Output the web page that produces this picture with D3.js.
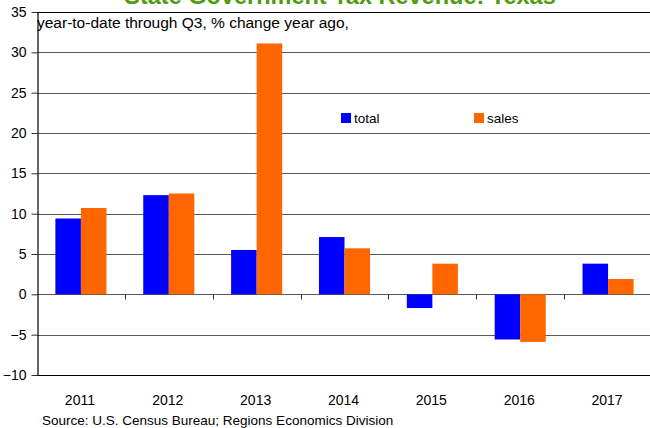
<!DOCTYPE html>
<html>
<head>
<meta charset="utf-8">
<script src="https://cdn.jsdelivr.net/npm/d3@7"></script>
<style>
  body { margin: 0; background: #fff; }
  svg { display: block; font-family: Arial, "Liberation Sans", sans-serif; }
</style>
</head>
<body>
<script>
var years = ['2011', '2012', '2013', '2014', '2015', '2016', '2017'];
var seriesNames = ['total', 'sales'];
var totalValues = [9.4, 12.3, 5.5, 7.1, -1.7, -5.6, 3.8];
var salesValues = [10.7, 12.5, 31.1, 5.7, 3.8, -5.9, 1.9];
var yTicks = [-10, -5, 0, 5, 10, 15, 20, 25, 30, 35];
var colors = { total: '#0000ff', sales: '#ff6600' };

var width = 650, height = 428;
var margin = { top: 12, right: -2, bottom: 53, left: 37 };

var svg = d3.select(document.body).append('svg')
    .attr('width', width)
    .attr('height', height);

var x0 = d3.scaleBand().domain(years)
    .range([margin.left, width - margin.right]).padding(0);
var x1 = d3.scaleBand().domain(seriesNames)
    .range([0, x0.bandwidth()]).paddingInner(0).paddingOuter(0.72);
var y = d3.scaleLinear().domain([-10, 35])
    .range([height - margin.bottom, margin.top]);

var data = years.map(function(yr, i) {
  return { year: yr, total: totalValues[i], sales: salesValues[i] };
});

// title (mostly cut off at the top edge, as in the source image)
svg.append('text')
    .attr('x', 340).attr('y', 4)
    .attr('text-anchor', 'middle')
    .attr('font-size', 23.5).attr('font-weight', 'bold')
    .attr('fill', '#4f9a0f')
    .text('State Government Tax Revenue: Texas');

// gridlines
svg.append('g').selectAll('line')
    .data(yTicks)
    .enter().append('line')
    .attr('x1', margin.left).attr('x2', width)
    .attr('y1', function(d) { return Math.round(y(d)) + 0.5; })
    .attr('y2', function(d) { return Math.round(y(d)) + 0.5; })
    .attr('stroke', function(d) { return (d === 35 || d === -10) ? '#000' : '#5a5a5a'; })
    .attr('stroke-width', 1.2);

// bars
var groups = svg.append('g').selectAll('g')
    .data(data)
    .enter().append('g')
    .attr('transform', function(d) { return 'translate(' + x0(d.year) + ',0)'; });

groups.selectAll('rect')
    .data(function(d) { return seriesNames.map(function(k) { return { key: k, value: d[k] }; }); })
    .enter().append('rect')
    .attr('x', function(d) { return x1(d.key); })
    .attr('width', x1.bandwidth())
    .attr('y', function(d) { return y(Math.max(0, d.value)); })
    .attr('height', function(d) { return Math.abs(y(d.value) - y(0)); })
    .attr('fill', function(d) { return colors[d.key]; });

// category ticks on zero line
var zeroY = Math.round(y(0)) + 0.5;
svg.append('g').selectAll('line')
    .data(years.slice(1))
    .enter().append('line')
    .attr('x1', function(d) { return Math.round(x0(d)) + 0.5; })
    .attr('x2', function(d) { return Math.round(x0(d)) + 0.5; })
    .attr('y1', zeroY).attr('y2', zeroY + 5)
    .attr('stroke', '#333');

// y axis
var yAxis = svg.append('g')
    .attr('transform', 'translate(' + (margin.left + 0.5) + ',0)')
    .call(d3.axisLeft(y).tickValues(yTicks).tickSize(6).tickSizeOuter(0).tickPadding(5));
yAxis.select('.domain').attr('stroke', '#000').attr('stroke-width', 1.2);
yAxis.selectAll('.tick line').attr('stroke', '#333');
yAxis.selectAll('.tick text')
    .attr('font-size', 14).attr('fill', '#000')
    .attr('font-family', 'Arial, "Liberation Sans", sans-serif');

// x labels
svg.append('g').selectAll('text')
    .data(years)
    .enter().append('text')
    .attr('x', function(d) { return x0(d) + x0.bandwidth() / 2 - 1; })
    .attr('y', 405)
    .attr('text-anchor', 'middle')
    .attr('font-size', 14)
    .text(function(d) { return d; });

// subtitle
svg.append('text')
    .attr('x', 37).attr('y', 28)
    .attr('font-size', 15.5)
    .text('year-to-date through Q3, % change year ago,');

// legend
var legendPos = { total: 341, sales: 474 };
var legend = svg.append('g').selectAll('g')
    .data(seriesNames)
    .enter().append('g')
    .attr('transform', function(d) { return 'translate(' + legendPos[d] + ',113)'; });
legend.append('rect')
    .attr('width', 10).attr('height', 10)
    .attr('fill', function(d) { return colors[d]; });
legend.append('text')
    .attr('x', 13).attr('y', 10)
    .attr('font-size', 13.5)
    .text(function(d) { return d; });

// source
svg.append('text')
    .attr('x', 42).attr('y', 425)
    .attr('font-size', 13.5)
    .text('Source: U.S. Census Bureau; Regions Economics Division');
</script>
</body>
</html>
